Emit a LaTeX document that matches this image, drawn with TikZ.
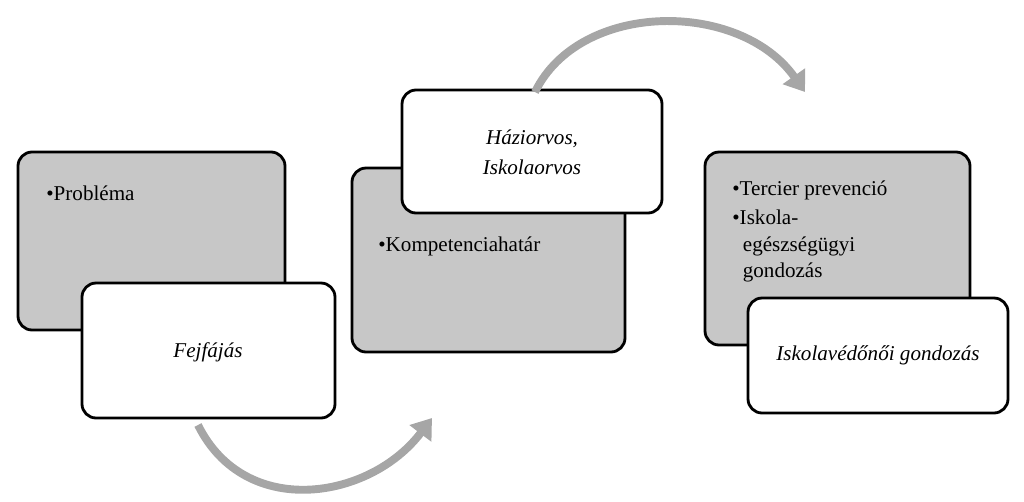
\documentclass[tikz,border=0pt]{standalone}
\usepackage{fontspec}
\setmainfont{Liberation Serif}
\usetikzlibrary{positioning,arrows.meta}
\tikzset{
  graybox/.style={draw=black, line width=1.6pt, fill=black!22, rounded corners=8pt},
  whitebox/.style={draw=black, line width=1.6pt, fill=white, rounded corners=8pt},
  flow/.style={draw=black!35, line width=4.5pt, -{Triangle[length=11pt,width=15pt]}},
  txt/.style={font=\fontsize{12}{15}\selectfont, align=left, anchor=north west, inner sep=0pt},
  itxt/.style={font=\fontsize{12}{17}\selectfont\itshape, align=center}
}
\begin{document}
\begin{tikzpicture}[x=0.02cm, y=-0.02cm]
\useasboundingbox (0,0) rectangle (1024,501);
% left group
\draw[graybox] (18,152) rectangle (285,330);
\draw[whitebox] (82,283) rectangle (335,418);
\node[txt] (prob) at (46,185) {\textbullet Probléma};
\node[itxt] (fej) at (208,352) {Fejfájás};
% middle group
\draw[graybox] (352,168) rectangle (625,352);
\draw[whitebox] (402,90) rectangle (662,213);
\node[txt] (komp) at (378,236) {\textbullet Kompetenciahatár};
\node[itxt] (orvos) at (532,152) {Háziorvos,\\Iskolaorvos};
% right group
\draw[graybox] (705,152) rectangle (970,345);
\draw[whitebox] (748,298) rectangle (1008,413);
\node[txt] (terc) at (732,180) {\textbullet Tercier prevenció\\[2pt]
  \textbullet Iskola-\\\hspace*{6pt}egészségügyi\\\hspace*{6pt}gondozás};
\node[itxt] (ved) at (878,355) {Iskolavédőnői gondozás};
% arrows
\coordinate (a1) at (198,425);
\coordinate (a2) at (432,418);
\coordinate (b1) at (535,92);
\coordinate (b2) at (805,92);
\draw[flow] (a1) .. controls (245,520) and (370,500) .. (a2);
\draw[flow] (b1) .. controls (580,0) and (740,0) .. (b2);
\end{tikzpicture}
\end{document}
